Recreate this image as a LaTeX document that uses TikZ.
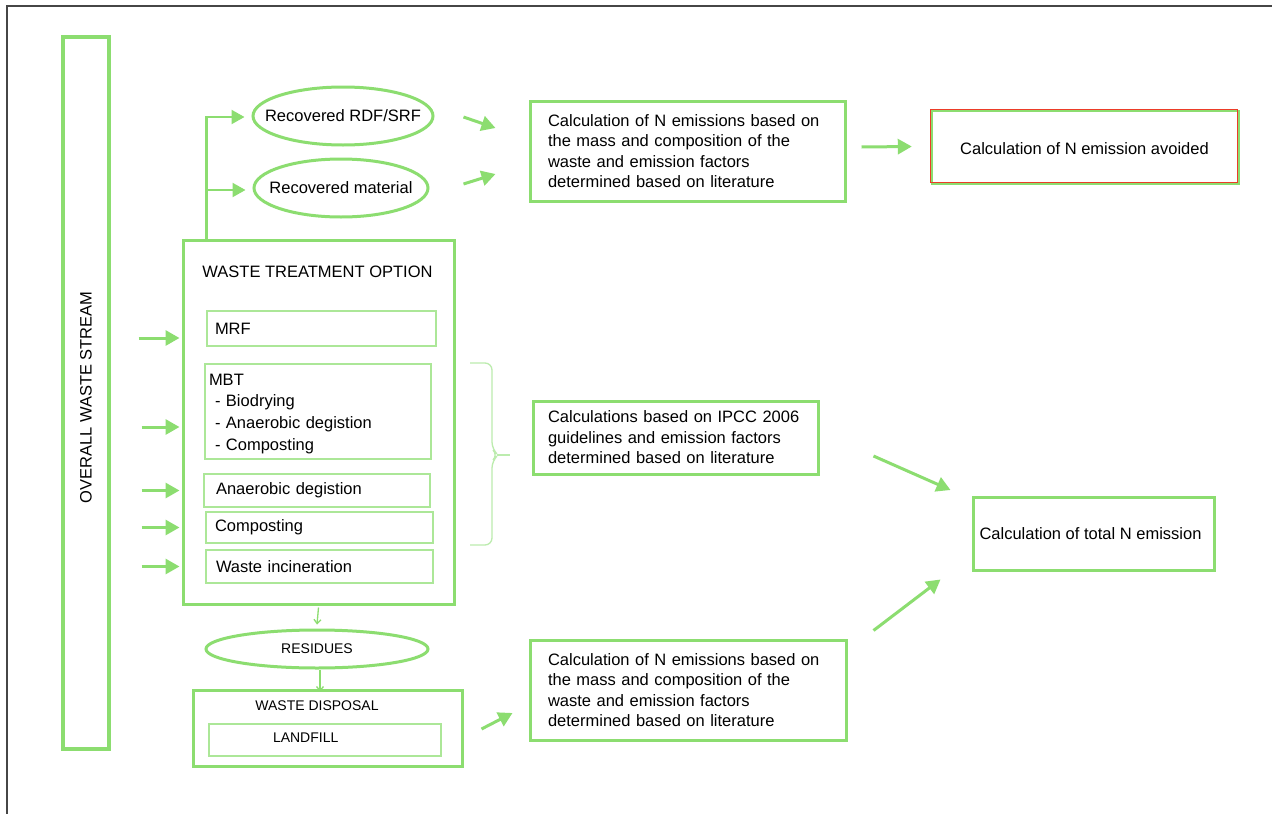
\documentclass[tikz,border=0pt]{standalone}
\usepackage{fontspec}
\setmainfont{Liberation Sans}
\usetikzlibrary{arrows.meta,shapes.geometric,calc}

\definecolor{grn}{RGB}{140,221,112}
\definecolor{grnlight}{RGB}{172,231,152}
\definecolor{grnbrace}{RGB}{188,236,174}
\definecolor{frame}{RGB}{70,70,70}
\definecolor{redline}{RGB}{236,60,40}

\tikzset{
  every node/.style={font=\fontsize{16.5}{20.5}\selectfont, text=black, inner sep=0pt},
  smallcaps/.style={font=\fontsize{14}{17}\selectfont},
  mainbox/.style={draw=grn, line width=3pt, rectangle},
  innerbox/.style={draw=grnlight, line width=1.3pt, rectangle},
  oval/.style={draw=grn, line width=3pt, ellipse},
  arr/.style={draw=grn, line width=3pt, -{Triangle[length=14pt,width=15pt]}},
  thinarr/.style={draw=grn, line width=2.2pt, -{Triangle[length=13pt,width=14pt]}},
  finearr/.style={draw=grn, line width=1.3pt, -{Straight Barb[length=4pt,width=7pt]}},
}

\begin{document}
\begin{tikzpicture}[x=1pt,y=-1pt]
\useasboundingbox (0,0) rectangle (1272,814);
\fill[white] (0,0) rectangle (1272,814);

% page frame
\draw[frame, line width=1.2pt] (7,814) -- (7,6) -- (1272,6);

% overall stream column
\node[draw=grn, line width=4pt, minimum width=712, minimum height=46, rotate=90]
  (stream) at (86,393) {\makebox[0pt]{OVERALL WASTE STREAM\hspace*{9pt}}};

% treatment block
\node[mainbox, minimum width=271, minimum height=364] (wto) at (318.5,422) {};
\node (wtotitle) at (317.5,272) {WASTE TREATMENT OPTION};
\node[innerbox, minimum width=229, minimum height=35, text width=213, align=left]
  (mrf) at (321.5,328.5) {MRF};
\node[innerbox, minimum width=226, minimum height=95, text width=218, align=left,
  font=\fontsize{16.5}{21.7}\selectfont]
  (mbt) at (318,411.5) {\rule{0pt}{16pt}MBT\\\hspace*{6pt}- Biodrying\\\hspace*{6pt}- Anaerobic degistion\\\hspace*{6pt}- Composting};
\node[innerbox, minimum width=226, minimum height=33, text width=202, align=left]
  (ad) at (317,490.5) {Anaerobic degistion};
\node[innerbox, minimum width=227, minimum height=31, text width=209, align=left]
  (comp) at (319.5,527.5) {Composting};
\node[innerbox, minimum width=227, minimum height=33, text width=207, align=left]
  (wi) at (319.5,566.5) {Waste incineration};

% recovered streams
\node[oval, minimum width=180, minimum height=58] (rdf) at (343,116)
  {\makebox[0pt]{Recovered RDF/SRF}};
\node[oval, minimum width=174, minimum height=58] (mat) at (341,188)
  {\makebox[0pt]{Recovered material}};

% calculation boxes
\node[mainbox, minimum width=315, minimum height=100, text width=279, align=left]
  (calcA) at (687.5,151)
  {Calculation of N emissions based on\\the mass and composition of the\\waste and emission factors\\determined based on literature};
\node[minimum width=307, minimum height=73] (avoid) at (1084.5,146.5)
  {\raisebox{-7.5pt}[0pt][0pt]{Calculation of N emission avoided}};
\draw[grn, line width=1.5pt] ($(avoid.north west)+(1,1)$) rectangle ($(avoid.south east)+(1,1)$);
\draw[redline, line width=1.2pt] (avoid.north west) rectangle ($(avoid.south east)+(-0.5,-0.5)$);

\node[mainbox, minimum width=285, minimum height=73, text width=255, align=left]
  (ipcc) at (675.5,437.5)
  {Calculations based on IPCC 2006\\guidelines and emission factors\\determined based on literature};
\node[mainbox, minimum width=241, minimum height=73] (total) at (1093.5,533.5)
  {\makebox[0pt]{\hspace*{-6pt}Calculation of total N emission}};
\node[mainbox, minimum width=316, minimum height=100, text width=280, align=left]
  (calcB) at (688,690)
  {Calculation of N emissions based on\\the mass and composition of the\\waste and emission factors\\determined based on literature};

% residues and disposal
\node[oval, minimum width=222, minimum height=38] (res) at (317,649)
  {\makebox[0pt]{\fontsize{14}{17}\selectfont RESIDUES}};
\node[mainbox, minimum width=269, minimum height=76] (wd) at (327.5,728) {};
\node[smallcaps] (wdtitle) at (317,706) {WASTE DISPOSAL};
\node[innerbox, smallcaps, minimum width=232, minimum height=32, text width=104, align=left]
  (lf) at (325,740) {\raisebox{-2.5pt}[0pt][0pt]{LANDFILL}};

% brace grouping the biological and thermal options
\draw[grnbrace, line width=1.3pt, rounded corners=7pt]
  (470,363) -- (492,363) -- (492,449) -- (498,455) -- (492,461) -- (492,545) -- (470,545);
\draw[grnbrace, line width=1.3pt] (497,455) -- (510,455);

% inputs from the overall stream
\draw[arr] ($(wto.west|-mrf)+(-43,9.5)$) -- ($(wto.west|-mrf)+(-2,9.5)$);
\draw[arr] ($(wto.west|-mbt)+(-40,15.5)$) -- ($(wto.west|-mbt)+(-2,15.5)$);
\draw[arr] ($(wto.west|-ad)+(-40,0)$) -- ($(wto.west|-ad)+(-2,0)$);
\draw[arr] ($(wto.west|-comp)+(-40,0)$) -- ($(wto.west|-comp)+(-2,0)$);
\draw[arr] ($(wto.west|-wi)+(-40,0)$) -- ($(wto.west|-wi)+(-2,0)$);

% recovered outputs
\coordinate (split) at ($(wto.north west)+(25,0)$);
\draw[thinarr, shorten >=7pt] (split) |- ($(rdf.west)+(0,1)$);
\draw[thinarr, shorten >=7pt] (split) |- ($(mat.west)+(0,2)$);

\draw[arr] ($(rdf.east)+(29,1)$) -- ($(calcA.west)+(-33,-23)$);
\draw[arr] ($(mat.east)+(34,-4)$) -- ($(calcA.west)+(-33,23)$);
\draw[arr] ($(calcA.east)+(15,-4)$) -- ($(avoid.west)+(-19,0)$);

% towards total emission
\draw[arr] ($(ipcc.east)+(54,18.5)$) -- ($(total.west)+(-21,-43.5)$);
\draw[arr] ($(calcB.north east)+(26,-8)$) -- ($(total.south west)+(-31,8)$);

% residue path
\draw[finearr] ($(wto.south)+(0,2)$) -- ($(res.north)+(0,-4)$);
\draw[finearr] ($(res.south)+(3,0)$) -- ($(res.south -| 320,0)+(0,22)$);
\draw[arr] ($(wd.east)+(18,1)$) -- ($(calcB.west)+(-16,23)$);
\end{tikzpicture}
\end{document}
